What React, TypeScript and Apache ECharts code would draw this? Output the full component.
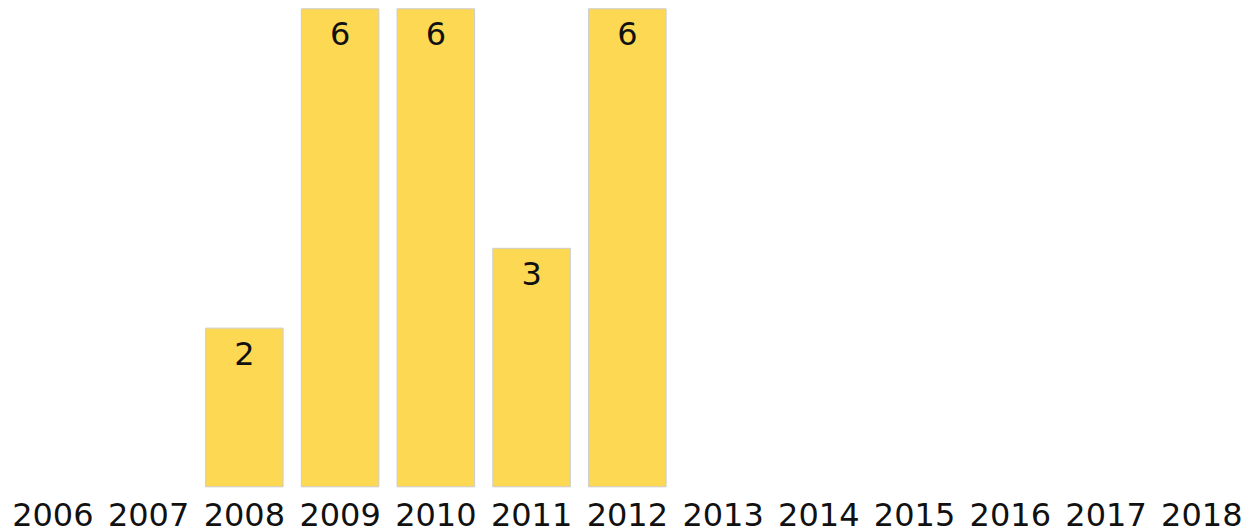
import React, { useEffect, useRef } from "react";
import * as echarts from "echarts";

const categories = ["2006", "2007", "2008", "2009", "2010", "2011", "2012", "2013", "2014", "2015", "2016", "2017", "2018"];
const values = [0, 0, 2, 6, 6, 3, 6, 0, 0, 0, 0, 0, 0];

export default function App() {
  const ref = useRef<HTMLDivElement>(null);
  useEffect(() => {
    if (!ref.current) return;
    const chart = echarts.init(ref.current, undefined, { renderer: "svg" });
    chart.setOption({
      animation: false,
      backgroundColor: "#ffffff",
      grid: { left: 5, top: 8.3, width: 1244.7, height: 479, outerBoundsMode: "none", containLabel: false },
      xAxis: {
        type: "category",
        data: categories,
        axisLine: { show: false },
        axisTick: { show: false },
        axisLabel: {
          margin: 12,
          fontFamily: "DejaVu Sans",
          fontSize: 32,
          color: "#111111",
          interval: 0,
        },
      },
      yAxis: {
        type: "value",
        min: 0,
        max: 6,
        show: false,
        splitLine: { show: false },
      },
      series: [
        {
          type: "bar",
          data: values.map((v) => (v === 0 ? null : v)),
          barWidth: "82%",
          itemStyle: { color: "#FDD853", borderColor: "#cccccc", borderWidth: 1 },
          label: {
            show: true,
            position: "insideTop",
            distance: 10,
            fontFamily: "DejaVu Sans",
            fontSize: 32,
            color: "#111111",
          },
        },
      ],
    });
    return () => chart.dispose();
  }, []);
  return (
    <div
      ref={ref}
      style={{ position: "absolute", left: 0, top: 0, width: 1247, height: 527 }}
    />
  );
}
